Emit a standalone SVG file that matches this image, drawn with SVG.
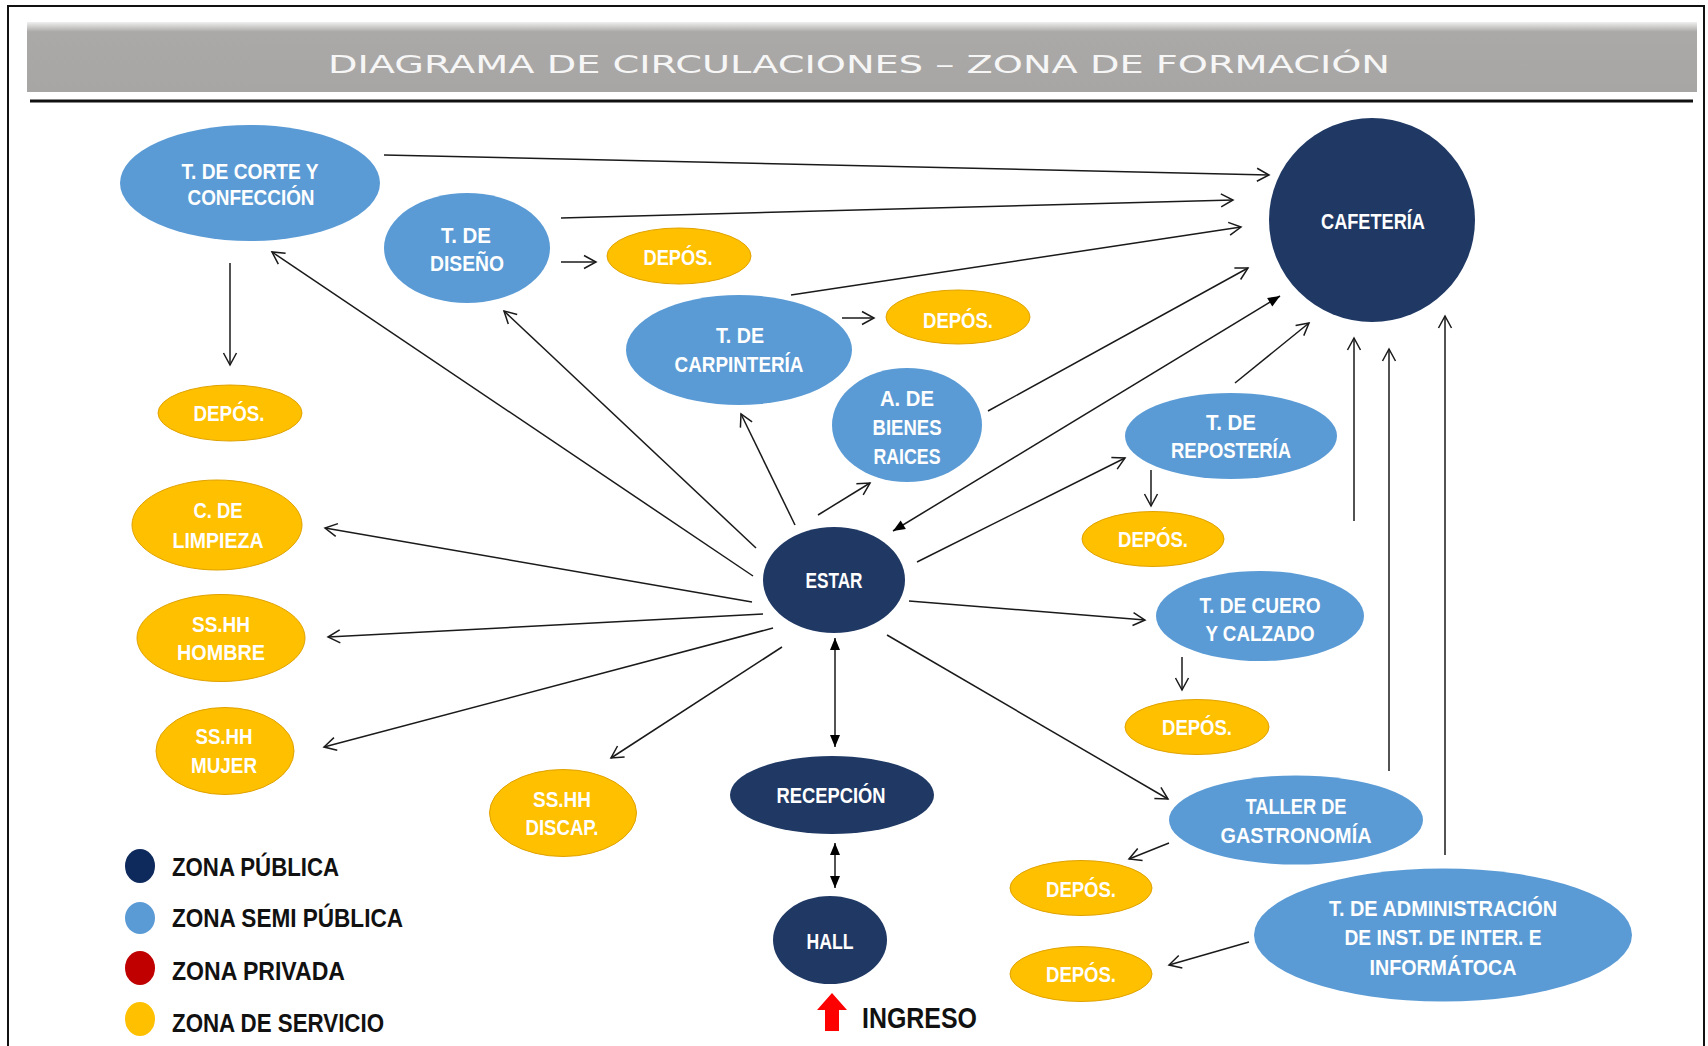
<svg xmlns="http://www.w3.org/2000/svg" width="1708" height="1046" viewBox="0 0 1708 1046">
<style>
.frame{fill:#fff;stroke:#111;stroke-width:2}
.c{stroke:#1a1a1a;stroke-width:1.5;fill:none}
.o{marker-end:url(#open)}
.d{marker-start:url(#fill);marker-end:url(#fill)}
.navy{fill:#1f3864}
.blue{fill:#5b9bd5}
.yel{fill:#ffc000;stroke:#e0a200;stroke-width:1}
.t{font-family:"Liberation Sans",Arial,sans-serif;font-weight:bold;font-size:22px;fill:#fff;text-anchor:middle}
.lg{font-family:"Liberation Sans",Arial,sans-serif;font-weight:bold;font-size:25px;fill:#111}
.title{font-family:"DejaVu Sans","Liberation Sans",sans-serif;font-size:25px;fill:#f6f6f6;text-anchor:middle;letter-spacing:0px}
</style>
<defs>
<marker id="open" viewBox="-14 -8 16 16" refX="0" refY="0" markerWidth="16" markerHeight="16" markerUnits="userSpaceOnUse" orient="auto">
<path d="M-12,-6.5 L0,0 L-12,6.5" fill="none" stroke="#1a1a1a" stroke-width="1.5"/>
</marker>
<marker id="fill" viewBox="-13 -6 14 12" refX="0" refY="0" markerWidth="14" markerHeight="12" markerUnits="userSpaceOnUse" orient="auto-start-reverse">
<path d="M-12,-5 L0,0 L-12,5 Z" fill="#000"/>
</marker>
<linearGradient id="ban" x1="0" y1="0" x2="0" y2="1">
<stop offset="0" stop-color="#f0f0f0"/>
<stop offset="0.14" stop-color="#aba9a7"/>
<stop offset="1" stop-color="#a8a6a4"/>
</linearGradient>
</defs>
<rect x="0" y="0" width="1708" height="1046" fill="#fff"/>
<rect class="frame" x="8" y="6" width="1696" height="1060"/>
<g id="title">
<rect x="27" y="22" width="1670" height="70" fill="url(#ban)"/>
<text class="title" x="859" y="73" textLength="1062" lengthAdjust="spacingAndGlyphs">DIAGRAMA DE CIRCULACIONES – ZONA DE FORMACIÓN</text>
<line x1="30" y1="101" x2="1693" y2="101" stroke="#111" stroke-width="3"/>
</g>
<g id="connectors">
<line class="c o" x1="384" y1="155" x2="1269" y2="175"/>
<line class="c o" x1="561" y1="218" x2="1233" y2="200"/>
<line class="c o" x1="791" y1="295" x2="1241" y2="227"/>
<line class="c o" x1="988" y1="411" x2="1248" y2="268"/>
<line class="c o" x1="1235" y1="383" x2="1309" y2="323"/>
<line class="c o" x1="1354" y1="521" x2="1354" y2="338"/>
<line class="c o" x1="1389" y1="771" x2="1389" y2="349"/>
<line class="c o" x1="1445" y1="855" x2="1445" y2="316"/>
<line class="c o" x1="230" y1="263" x2="230" y2="365"/>
<line class="c o" x1="561" y1="262" x2="596" y2="262"/>
<line class="c o" x1="842" y1="318" x2="874" y2="318"/>
<line class="c o" x1="753" y1="576" x2="272" y2="252"/>
<line class="c o" x1="756" y1="548" x2="504" y2="311"/>
<line class="c o" x1="795" y1="525" x2="741" y2="414"/>
<line class="c o" x1="818" y1="515" x2="870" y2="483"/>
<line class="c o" x1="917" y1="562" x2="1125" y2="458"/>
<line class="c o" x1="909" y1="601" x2="1145" y2="620"/>
<line class="c o" x1="887" y1="635" x2="1168" y2="799"/>
<line class="c o" x1="752" y1="602" x2="325" y2="528"/>
<line class="c o" x1="763" y1="614" x2="328" y2="637"/>
<line class="c o" x1="773" y1="628" x2="324" y2="747"/>
<line class="c o" x1="782" y1="647" x2="611" y2="758"/>
<line class="c o" x1="1151" y1="470" x2="1151" y2="506"/>
<line class="c o" x1="1182" y1="657" x2="1182" y2="690"/>
<line class="c o" x1="1169" y1="843" x2="1129" y2="859"/>
<line class="c o" x1="1249" y1="942" x2="1169" y2="965"/>
<line class="c d" x1="893" y1="531" x2="1280" y2="296"/>
<line class="c d" x1="835" y1="638" x2="835" y2="747"/>
<line class="c d" x1="835" y1="843" x2="835" y2="888"/>
</g>
<g id="n-corte"><ellipse class="blue" cx="250" cy="183" rx="130" ry="58"/>
<text class="t" x="250" y="179" textLength="137" lengthAdjust="spacingAndGlyphs">T. DE CORTE Y</text>
<text class="t" x="251" y="205" textLength="127" lengthAdjust="spacingAndGlyphs">CONFECCIÓN</text></g>
<g id="n-diseno"><ellipse class="blue" cx="467" cy="248" rx="83" ry="55"/>
<text class="t" x="466" y="243" textLength="50" lengthAdjust="spacingAndGlyphs">T. DE</text>
<text class="t" x="467" y="271" textLength="74" lengthAdjust="spacingAndGlyphs">DISEÑO</text></g>
<g id="n-depos1"><ellipse class="yel" cx="679" cy="256" rx="72" ry="28"/>
<text class="t" x="678" y="265" textLength="69" lengthAdjust="spacingAndGlyphs">DEPÓS.</text></g>
<g id="n-carp"><ellipse class="blue" cx="739" cy="350" rx="113" ry="55"/>
<text class="t" x="740" y="343" textLength="48" lengthAdjust="spacingAndGlyphs">T. DE</text>
<text class="t" x="739" y="372" textLength="129" lengthAdjust="spacingAndGlyphs">CARPINTERÍA</text></g>
<g id="n-depos2"><ellipse class="yel" cx="958" cy="317" rx="72" ry="27"/>
<text class="t" x="958" y="328" textLength="70" lengthAdjust="spacingAndGlyphs">DEPÓS.</text></g>
<g id="n-depos0"><ellipse class="yel" cx="230" cy="413" rx="72" ry="28"/>
<text class="t" x="229" y="421" textLength="71" lengthAdjust="spacingAndGlyphs">DEPÓS.</text></g>
<g id="n-cafeteria"><ellipse class="navy" cx="1372" cy="220" rx="103" ry="102"/>
<text class="t" x="1373" y="229" textLength="104" lengthAdjust="spacingAndGlyphs">CAFETERÍA</text></g>
<g id="n-bienes"><ellipse class="blue" cx="907" cy="425" rx="75" ry="57"/>
<text class="t" x="907" y="406" textLength="54" lengthAdjust="spacingAndGlyphs">A. DE</text>
<text class="t" x="907" y="435" textLength="69" lengthAdjust="spacingAndGlyphs">BIENES</text>
<text class="t" x="907" y="464" textLength="67" lengthAdjust="spacingAndGlyphs">RAICES</text></g>
<g id="n-reposteria"><ellipse class="blue" cx="1231" cy="436" rx="106" ry="43"/>
<text class="t" x="1231" y="430" textLength="50" lengthAdjust="spacingAndGlyphs">T. DE</text>
<text class="t" x="1231" y="458" textLength="120" lengthAdjust="spacingAndGlyphs">REPOSTERÍA</text></g>
<g id="n-depos3"><ellipse class="yel" cx="1153" cy="539" rx="71" ry="27.5"/>
<text class="t" x="1153" y="547" textLength="70" lengthAdjust="spacingAndGlyphs">DEPÓS.</text></g>
<g id="n-cuero"><ellipse class="blue" cx="1260" cy="616" rx="104" ry="45"/>
<text class="t" x="1260" y="613" textLength="121" lengthAdjust="spacingAndGlyphs">T. DE CUERO</text>
<text class="t" x="1260" y="641" textLength="109" lengthAdjust="spacingAndGlyphs">Y CALZADO</text></g>
<g id="n-depos4"><ellipse class="yel" cx="1197" cy="727" rx="72" ry="27.5"/>
<text class="t" x="1197" y="735" textLength="70" lengthAdjust="spacingAndGlyphs">DEPÓS.</text></g>
<g id="n-gastro"><ellipse class="blue" cx="1296" cy="820" rx="127" ry="44.5"/>
<text class="t" x="1296" y="814" textLength="101" lengthAdjust="spacingAndGlyphs">TALLER DE</text>
<text class="t" x="1296" y="843" textLength="151" lengthAdjust="spacingAndGlyphs">GASTRONOMÍA</text></g>
<g id="n-depos5"><ellipse class="yel" cx="1081" cy="888" rx="71" ry="27.5"/>
<text class="t" x="1081" y="897" textLength="70" lengthAdjust="spacingAndGlyphs">DEPÓS.</text></g>
<g id="n-admin"><ellipse class="blue" cx="1443" cy="935" rx="189" ry="66.5"/>
<text class="t" x="1443" y="916" textLength="228" lengthAdjust="spacingAndGlyphs">T. DE ADMINISTRACIÓN</text>
<text class="t" x="1443" y="945" textLength="197" lengthAdjust="spacingAndGlyphs">DE INST. DE INTER. E</text>
<text class="t" x="1443" y="975" textLength="147" lengthAdjust="spacingAndGlyphs">INFORMÁTOCA</text></g>
<g id="n-depos6"><ellipse class="yel" cx="1081" cy="974" rx="71" ry="27.5"/>
<text class="t" x="1081" y="982" textLength="70" lengthAdjust="spacingAndGlyphs">DEPÓS.</text></g>
<g id="n-limpieza"><ellipse class="yel" cx="217" cy="525" rx="85" ry="45"/>
<text class="t" x="218" y="518" textLength="49" lengthAdjust="spacingAndGlyphs">C. DE</text>
<text class="t" x="218" y="548" textLength="91" lengthAdjust="spacingAndGlyphs">LIMPIEZA</text></g>
<g id="n-hombre"><ellipse class="yel" cx="221" cy="638" rx="84" ry="43.5"/>
<text class="t" x="221" y="632" textLength="58" lengthAdjust="spacingAndGlyphs">SS.HH</text>
<text class="t" x="221" y="660" textLength="88" lengthAdjust="spacingAndGlyphs">HOMBRE</text></g>
<g id="n-mujer"><ellipse class="yel" cx="225" cy="751" rx="69" ry="43.5"/>
<text class="t" x="224" y="744" textLength="57" lengthAdjust="spacingAndGlyphs">SS.HH</text>
<text class="t" x="224" y="773" textLength="66" lengthAdjust="spacingAndGlyphs">MUJER</text></g>
<g id="n-discap"><ellipse class="yel" cx="563" cy="813" rx="73.5" ry="43.5"/>
<text class="t" x="562" y="807" textLength="58" lengthAdjust="spacingAndGlyphs">SS.HH</text>
<text class="t" x="562" y="835" textLength="73" lengthAdjust="spacingAndGlyphs">DISCAP.</text></g>
<g id="n-estar"><ellipse class="navy" cx="834" cy="580" rx="71" ry="53"/>
<text class="t" x="834" y="588" textLength="57" lengthAdjust="spacingAndGlyphs">ESTAR</text></g>
<g id="n-recepcion"><ellipse class="navy" cx="832" cy="795" rx="102" ry="39"/>
<text class="t" x="831" y="803" textLength="109" lengthAdjust="spacingAndGlyphs">RECEPCIÓN</text></g>
<g id="n-hall"><ellipse class="navy" cx="830" cy="940" rx="57" ry="44"/>
<text class="t" x="830" y="949" textLength="47" lengthAdjust="spacingAndGlyphs">HALL</text></g>
<g id="ingreso">
<polygon points="832,993 847,1010 839,1010 839,1031 825,1031 825,1010 817,1010" fill="#f00"/>
<text x="862" y="1028" textLength="115" lengthAdjust="spacingAndGlyphs" style="font-family:'Liberation Sans',Arial,sans-serif;font-weight:bold;font-size:29px;fill:#111">INGRESO</text>
</g>
<g id="legend">
<ellipse cx="140" cy="866" rx="15" ry="17" fill="#0e2a5c"/>
<text class="lg" x="172" y="876" textLength="167" lengthAdjust="spacingAndGlyphs">ZONA PÚBLICA</text>
<ellipse cx="140" cy="918" rx="15" ry="16" fill="#5b9bd5"/>
<text class="lg" x="172" y="927" textLength="231" lengthAdjust="spacingAndGlyphs">ZONA SEMI PÚBLICA</text>
<ellipse cx="140" cy="968" rx="15" ry="17" fill="#c00000"/>
<text class="lg" x="172" y="980" textLength="173" lengthAdjust="spacingAndGlyphs">ZONA PRIVADA</text>
<ellipse cx="140" cy="1019" rx="15" ry="17" fill="#ffc000"/>
<text class="lg" x="172" y="1032" textLength="212" lengthAdjust="spacingAndGlyphs">ZONA DE SERVICIO</text>
</g>
</svg>
